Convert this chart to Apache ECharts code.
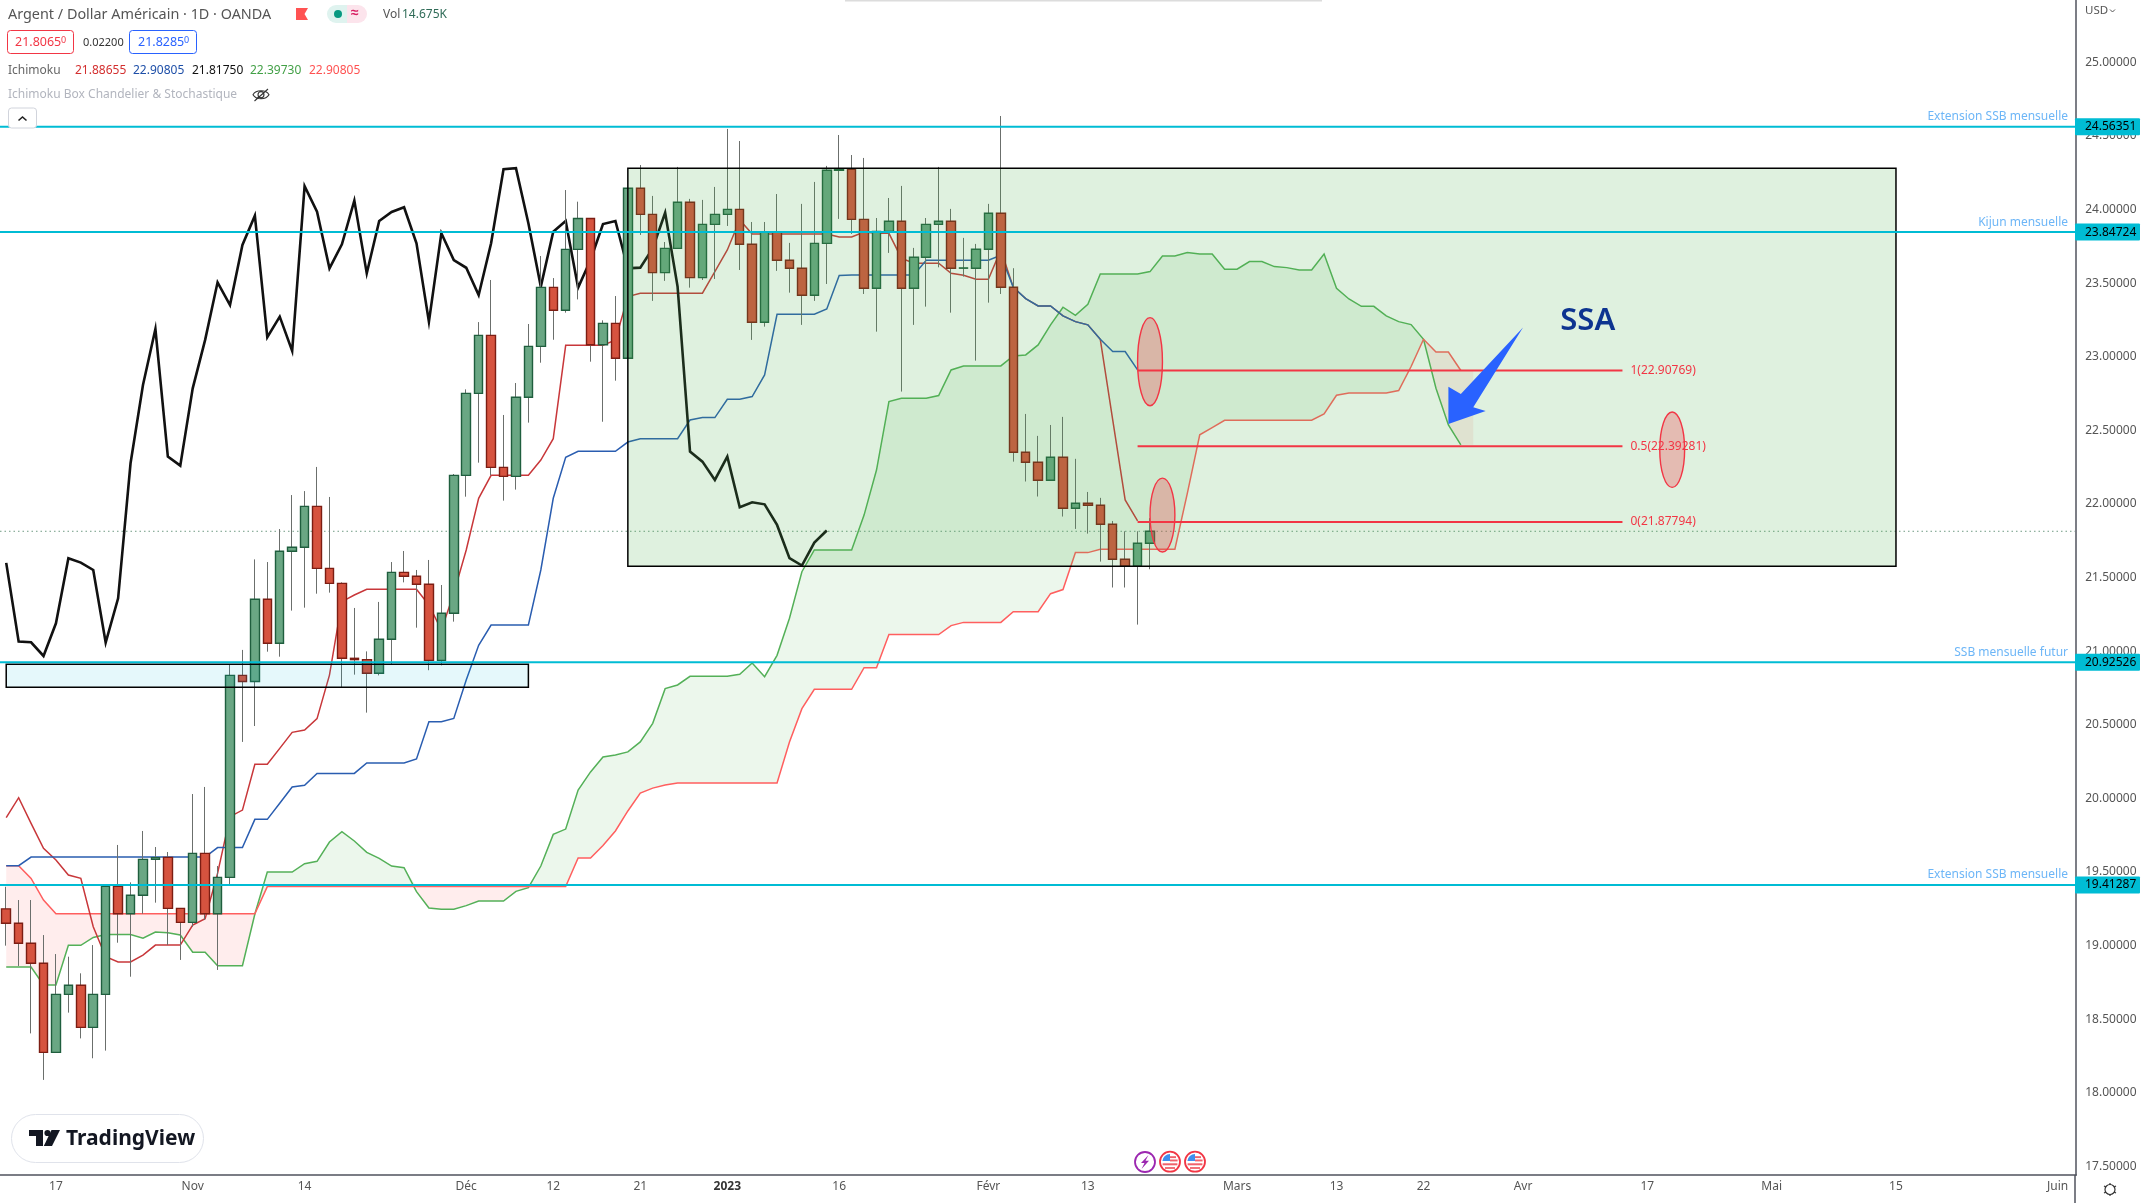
<!DOCTYPE html>
<html><head><meta charset="utf-8"><style>html,body{margin:0;padding:0;background:#fff}#c{width:2144px;height:1203px}</style>
<script src="https://cdn.jsdelivr.net/npm/echarts@6/dist/echarts.min.js"></script></head><body><div id="c"></div>
<script>
const opens=[19.25,19.152,19.016,18.880,18.275,18.669,18.731,18.445,18.669,19.403,19.217,19.342,19.586,19.600,19.253,19.158,19.627,19.217,19.464,20.836,20.794,21.353,21.054,21.679,21.706,21.984,21.563,21.461,20.952,20.943,20.850,21.081,21.536,21.509,21.455,20.938,21.258,22.195,22.752,23.146,22.249,22.188,22.725,23.071,23.472,23.316,23.730,23.940,23.082,23.227,22.990,24.145,23.968,23.572,23.737,24.050,23.538,23.900,23.968,24.002,23.765,23.235,23.846,23.656,23.602,23.418,23.771,24.267,24.274,23.934,23.466,23.851,23.921,23.466,23.676,23.900,23.921,23.602,23.602,23.731,23.975,23.473,22.352,22.284,22.162,22.318,21.971,22.005,21.992,21.863,21.625,21.578,21.734];
const closes=[19.152,19.016,18.880,18.275,18.669,18.731,18.445,18.669,19.403,19.217,19.342,19.586,19.598,19.253,19.158,19.627,19.217,19.464,20.836,20.794,21.353,21.054,21.679,21.706,21.984,21.563,21.461,20.952,20.943,20.850,21.081,21.536,21.509,21.455,20.938,21.258,22.195,22.752,23.146,22.249,22.188,22.725,23.071,23.472,23.316,23.730,23.940,23.082,23.227,22.990,24.145,23.968,23.572,23.737,24.050,23.538,23.900,23.968,24.002,23.765,23.235,23.846,23.656,23.602,23.418,23.771,24.267,24.276,23.934,23.466,23.851,23.921,23.466,23.676,23.900,23.921,23.602,23.604,23.731,23.975,23.473,22.352,22.284,22.162,22.318,21.971,22.005,21.992,21.863,21.625,21.578,21.734,21.815];
const lows=[19.0,18.862,18.404,18.088,18.275,18.545,18.370,18.235,18.287,19.020,18.789,19.217,19.292,19.004,18.903,19.129,19.174,18.835,19.419,20.384,20.492,20.997,20.963,21.276,21.296,21.391,21.398,20.755,20.841,20.583,20.836,20.913,21.468,21.160,20.871,20.904,21.201,22.050,22.281,22.195,22.023,22.098,22.553,22.960,23.116,23.300,23.390,22.967,22.559,22.838,22.990,23.828,23.380,23.516,23.737,23.470,23.522,23.529,23.889,23.590,23.115,23.205,23.584,23.436,23.217,23.380,23.495,23.937,23.835,23.427,23.171,23.706,22.764,23.217,23.341,23.608,23.300,23.545,22.974,23.368,23.427,22.288,22.153,22.051,22.162,21.915,21.831,21.799,21.609,21.433,21.433,21.181,21.557];
const highs=[19.4,19.310,19.310,19.072,18.943,18.925,18.812,19.004,19.403,19.684,19.430,19.779,19.670,19.636,19.253,20.030,20.078,19.541,20.911,21.009,21.624,21.606,21.830,22.061,22.088,22.252,22.048,21.468,21.294,20.999,21.335,21.606,21.681,21.552,21.620,21.450,22.204,22.779,23.236,23.522,22.605,22.822,23.223,23.685,23.535,24.133,24.054,23.940,23.248,23.413,24.145,24.303,24.093,23.780,24.290,24.073,24.066,24.154,24.548,24.466,23.916,23.916,24.106,23.774,24.039,24.188,24.297,24.507,24.371,24.351,23.943,24.079,24.161,23.740,23.943,24.290,24.005,23.808,23.767,24.039,24.636,23.602,22.612,22.463,22.537,22.592,22.307,22.082,22.042,21.885,21.815,21.815,21.904];
const tenkan=[19.87,20.005,19.831,19.661,19.582,19.480,19.457,19.129,18.925,18.889,18.889,18.936,19.004,19.004,19.004,19.140,19.183,19.491,19.876,19.921,20.232,20.232,20.340,20.449,20.465,20.542,20.838,21.337,21.382,21.421,21.421,21.421,21.421,21.421,21.314,21.144,21.393,21.688,22.039,22.195,22.195,22.195,22.195,22.299,22.444,23.078,23.078,23.078,23.078,23.115,23.409,23.432,23.432,23.432,23.432,23.432,23.432,23.579,23.726,23.930,23.835,23.835,23.835,23.835,23.835,23.835,23.835,23.814,23.814,23.848,23.839,23.839,23.670,23.636,23.636,23.636,23.568,23.554,23.527,23.527,23.726,23.473,23.396,23.346,23.346,23.278,23.239,23.217,23.119,22.571,22.028,21.885];
const kijun=[19.543,19.543,19.602,19.602,19.602,19.602,19.602,19.602,19.602,19.602,19.602,19.602,19.602,19.602,19.602,19.602,19.602,19.666,19.666,19.666,19.858,19.858,19.967,20.078,20.089,20.170,20.170,20.170,20.170,20.241,20.241,20.241,20.241,20.268,20.521,20.521,20.544,20.804,21.040,21.178,21.178,21.178,21.178,21.552,22.039,22.317,22.358,22.358,22.358,22.358,22.421,22.444,22.444,22.444,22.444,22.571,22.587,22.587,22.712,22.712,22.730,22.877,23.289,23.289,23.289,23.289,23.325,23.552,23.556,23.556,23.556,23.556,23.556,23.556,23.656,23.656,23.656,23.656,23.656,23.656,23.690,23.473,23.396,23.346,23.346,23.278,23.239,23.217,23.119,23.036,23.036,22.911];
const chikou=[21.6,21.066,21.061,20.968,21.190,21.632,21.602,21.552,21.059,21.360,22.277,22.809,23.189,22.322,22.261,22.786,23.115,23.506,23.352,23.760,23.959,23.133,23.273,23.040,24.160,23.986,23.601,23.764,24.061,23.567,23.923,23.984,24.016,23.771,23.239,23.839,23.657,23.605,23.420,23.771,24.274,24.281,23.907,23.477,23.850,23.923,23.470,23.658,23.902,23.923,23.601,23.606,23.737,23.979,23.477,22.356,22.288,22.164,22.322,21.978,22.012,21.998,21.858,21.632,21.582,21.738,21.820];
const senkouA=[18.855,18.855,18.855,18.733,18.733,19.002,19.002,19.056,19.075,19.075,19.075,19.050,19.093,19.088,19.072,18.955,18.955,18.864,18.864,18.864,19.215,19.500,19.500,19.500,19.557,19.573,19.704,19.774,19.711,19.634,19.593,19.541,19.530,19.367,19.256,19.247,19.247,19.272,19.303,19.303,19.303,19.369,19.394,19.541,19.756,19.792,20.057,20.180,20.282,20.295,20.316,20.384,20.510,20.746,20.771,20.830,20.830,20.830,20.830,20.843,20.920,20.827,20.972,21.224,21.540,21.688,21.688,21.688,21.688,21.925,22.231,22.696,22.719,22.719,22.719,22.737,22.911,22.938,22.938,22.938,22.938,23.006,23.013,23.081,23.217,23.337,23.282,23.357,23.563,23.563,23.563,23.563,23.579,23.685,23.685,23.708,23.699,23.699,23.595,23.595,23.647,23.647,23.613,23.606,23.590,23.590,23.699,23.466,23.393,23.343,23.343,23.278,23.239,23.219,23.119,22.787,22.537,22.402,22.402];
const senkouB=[19.543,19.543,19.457,19.310,19.217,19.217,19.217,19.217,19.217,19.217,19.217,19.217,19.217,19.217,19.217,19.217,19.217,19.217,19.217,19.217,19.217,19.401,19.401,19.401,19.401,19.401,19.401,19.401,19.401,19.401,19.401,19.401,19.401,19.401,19.401,19.401,19.401,19.401,19.401,19.401,19.401,19.401,19.401,19.401,19.401,19.401,19.596,19.596,19.680,19.779,19.915,20.037,20.070,20.091,20.105,20.105,20.105,20.105,20.105,20.105,20.105,20.105,20.105,20.384,20.610,20.741,20.741,20.741,20.741,20.888,20.888,21.113,21.113,21.113,21.113,21.113,21.174,21.196,21.196,21.196,21.196,21.268,21.268,21.268,21.391,21.419,21.670,21.670,21.693,21.693,21.693,21.693,21.693,21.693,21.693,22.073,22.470,22.519,22.569,22.569,22.569,22.569,22.569,22.569,22.569,22.569,22.612,22.739,22.755,22.755,22.755,22.755,22.771,22.934,23.119,23.033,23.033,22.907,22.907];
const yTicks=[25,24.5,24,23.5,23,22.5,22,21.5,21,20.5,20,19.5,19,18.5,18,17.5];
const tickIndex=[4,15,24,37,44,51,58,67,79,87,99,107,114,122,132,142,152,165];
const tickLabels=['17','Nov','14','Déc','12','21','2023','16','Févr','13','Mars','13','22','Avr','17','Mai','15','Juin'];
const levels=[24.56351,23.84724,20.92526,19.41287];
const levelNames=['Extension SSB mensuelle','Kijun mensuelle','SSB mensuelle futur','Extension SSB mensuelle'];
const lastPrice=[21.815];
const fibRatios=['1','0.5','0'];
const fibValues=[22.90769,22.39281,21.87794];
const fibSpan=[91,130];
const mainBox=[50,152,24.281,21.577];
const supportBox=[0,42,20.911,20.755];
const ellipses=[[92,22.967,3.6,0.299],[92.5,21.925,2.56,0.251],[133.5,22.369,4.54,0.256]];
const arrowX=[115.95,116.32,116.8,122.06,118.08,118.74];
const arrowY=[22.544,22.797,22.747,23.200,22.657,22.632];
const ssaLabel=[124.5,23.243];

const FONT='"Noto Sans", sans-serif';
const categories=new Array(167).fill('');
tickIndex.forEach((ix,k)=>{categories[ix]=tickLabels[k]});
const bars=opens.map((o,i)=>[o,closes[i],lows[i],highs[i]]);
const bodies=opens.map((o,i)=>[o,closes[i],Math.min(o,closes[i]),Math.max(o,closes[i])]);

const runs=[];
(function(){
  let cur=null;
  for(let i=0;i<senkouA.length;i++){
    const a=senkouA[i],b=senkouB[i],sign=a>=b?1:-1;
    if(cur&&cur.sign!==sign){
      const pa=senkouA[i-1],pb=senkouB[i-1],d0=pa-pb,d1=a-b,t=d0/(d0-d1),cy=pa+t*(a-pa),cx=i-1+t;
      cur.up.push([cx,cy]);runs.push(cur);
      cur={sign,up:[[cx,cy]],dn:[]};
    }
    if(!cur)cur={sign,up:[],dn:[]};
    cur.up.push([i,a]);cur.dn.push([i,b]);
  }
  runs.push(cur);
})();

function layer(z,count,draw){
  const data=[];for(let i=0;i<count;i++)data.push([i,20]);
  return {type:'custom',coordinateSystem:'cartesian2d',z,clip:false,silent:true,animation:false,
    encode:{x:0,y:1},data,renderItem:(p,api)=>draw(p.dataIndex,api)};
}
function lineSeries(data,color,width,z){
  return {type:'line',data,z,symbol:'none',silent:true,animation:false,smooth:false,
    lineStyle:{color,width,join:'miter'},connectNulls:false};
}
function T(text,x,y,fill,size,extra){
  return {type:'text',x,y,silent:true,style:Object.assign({text,fill,fontSize:size,fontFamily:FONT,verticalAlign:'middle'},extra||{})};
}
function R(x,y,w,h,fill,stroke,r,lw){
  return {type:'rect',silent:true,shape:{x,y,width:w,height:h,r:r||0},style:{fill:fill||'none',stroke:stroke||'none',lineWidth:lw||1}};
}
function P(d,fill,stroke,lw){return {type:'path',silent:true,shape:{pathData:d},style:{fill:fill||'none',stroke:stroke||'none',lineWidth:lw||1}}}
function C(cx,cy,r,fill,stroke,lw){return {type:'circle',silent:true,shape:{cx,cy,r},style:{fill:fill||'none',stroke:stroke||'none',lineWidth:lw||1}}}
function flag(cx,cy){
  return [C(cx,cy,10,'#fff','#f23645',1.8),
    P(`M${cx-7.6},${cy-0.6} A7.6,7.6 0 0 1 ${cx},${cy-7.6} L${cx},${cy-0.6} Z`,'#3f8fee'),
    R(cx,cy-5.5,6,1.9,'#f0616b'),R(cx,cy-2.2,7.6,1.9,'#f0616b'),R(cx-7.4,cy+1.6,14.8,2,'#f0616b'),R(cx-5,cy+5.4,10,1.8,'#f0616b')];
}
function chrome(){
  const e=[];
  e.push(R(845,0,477,1.6,'#dcdcdc'));
  e.push(T('Argent / Dollar Américain · 1D · OANDA',8,15,'#555',14.4));
  e.push(P('M296,8 L308,8 L304.5,14 L308,20 L296,20 Z','#ff5252'));
  e.push(R(327,5,20,18,'#dff3ef',null,[9,0,0,9]));
  e.push(R(347,5,20,18,'#fce4ec',null,[0,9,9,0]));
  e.push(C(338,14,4,'#089981'));
  e.push(T('≈',351,13.5,'#d81b60',14,{fontWeight:'bold'}));
  e.push(T('Vol',383,15,'#555',12));
  e.push(T('14.675K',402,15,'#2f6b57',12));
  e.push(R(7.5,30.5,66,23,'#fff','#f23645',3,1));
  e.push(T('21.8065',15,42.5,'#f23645',12.5));
  e.push(T('0',61,40,'#f23645',9));
  e.push(T('0.02200',83,42.5,'#333',11));
  e.push(R(129.5,30.5,67,23,'#fff','#2962ff',3,1));
  e.push(T('21.8285',138,42.5,'#2962ff',12.5));
  e.push(T('0',184,40,'#2962ff',9));
  e.push(T('Ichimoku',8,70.5,'#666',12));
  e.push(T('21.88655',75,70.5,'#d32f2f',12));
  e.push(T('22.90805',133,70.5,'#1e4fa8',12));
  e.push(T('21.81750',192,70.5,'#111',12));
  e.push(T('22.39730',250,70.5,'#43a047',12));
  e.push(T('22.90805',309,70.5,'#ff5252',12));
  e.push(T('Ichimoku Box Chandelier & Stochastique',8,94.5,'#b2b5be',12));
  e.push(P('M253,94.7 C256,89.5 266,89.5 269,94.7 C266,100 256,100 253,94.7 Z M258,94.7 A3,3 0 1 0 264,94.7 A3,3 0 1 0 258,94.7 Z M254.5,101 L268,89',null,'#333',1.1));
  e.push(R(8.5,108,28,20,'#fff','#d1d4dc',3,1));
  e.push(P('M18.5,120.5 L22.5,117 L26.5,120.5',null,'#222',1.6));
  e.push(T('USD',2085,10.5,'#555',11.5));
  e.push(P('M2110,9.5 L2112.5,12 L2115,9.5',null,'#555',1));
  e.push(R(11.5,1114.5,192,48,'#fff','#e0e3eb',24,1));
  e.push(P('M29,1130 L43,1130 L43,1146 L36,1146 L36,1136 L29,1136 Z','#131722'));
  e.push(C(47.5,1133,3.1,'#131722'));
  e.push(P('M51.5,1130 L60,1130 L52,1146 L43.8,1146 Z','#131722'));
  e.push(T('TradingView',66,1139,'#131722',21,{fontWeight:'bold'}));
  e.push(C(1145,1162,10,'#fff','#9c27b0',1.8));
  e.push(P('M1148.5,1155 L1141,1163 L1144.5,1163 L1141.5,1169 L1149,1160.8 L1145.5,1160.8 Z','#9c27b0'));
  flag(1170,1161.7).forEach(x=>e.push(x));
  flag(1195,1161.7).forEach(x=>e.push(x));
  e.push(P('M2075,1175 L2075,1203',null,'#50535e',1.5));
  e.push(C(2110,1189.5,5,'#fff','#333',1.2));
  e.push(P('M2110,1183 L2110,1185 M2110,1194 L2110,1196 M2104,1186 L2106,1187 M2114,1192 L2116,1193 M2104,1193 L2106,1192 M2114,1187 L2116,1186',null,'#333',1.2));
  return e;
}

const option={
  backgroundColor:'#ffffff',animation:false,
  grid:{left:-11.25,top:0,width:2087.5,height:1175,containLabel:false},
  xAxis:{type:'category',data:categories,boundaryGap:true,
    axisLine:{show:true,lineStyle:{color:'#50535e',width:1.5}},axisTick:{show:false},splitLine:{show:false},
    axisLabel:{interval:(i,v)=>v!=='',color:'#555',fontSize:12,fontFamily:FONT,margin:6,hideOverlap:false,
      formatter:v=>v==='2023'?'{b|2023}':v,rich:{b:{fontWeight:'bold',color:'#333',fontSize:12,fontFamily:FONT}}}},
  yAxis:{type:'value',position:'right',offset:-1,min:17.442,max:25.424,
    axisLine:{show:true,onZero:false,lineStyle:{color:'#50535e',width:1.5}},axisTick:{show:false},splitLine:{show:false},
    axisLabel:{customValues:yTicks,color:'#555',fontSize:12,fontFamily:FONT,margin:10,formatter:v=>v.toFixed(5)}},
  series:[
    layer(1,runs.length,(i,api)=>{
      const r=runs[i];
      const pts=r.up.concat(r.dn.slice().reverse()).map(p=>api.coord(p));
      return {type:'polygon',shape:{points:pts},style:{fill:r.sign>0?'rgba(76,175,80,0.105)':'rgba(255,82,82,0.105)'}};
    }),
    lineSeries(senkouA.slice(0,-1),'#54b058',1.5,2),
    lineSeries(senkouB.slice(0,-1),'#ff5f5f',1.5,2),
    lineSeries(tenkan,'#c8373a',1.5,2),
    lineSeries(kijun,'#2a5db0',1.5,2),
    lineSeries(chikou,'#111111',2.6,2),
    layer(2,1,(i,api)=>{
      const y=api.coord([0,lastPrice[0]])[1];
      return {type:'line',shape:{x1:0,y1:y,x2:2075,y2:y},style:{stroke:'#6f9a82',lineWidth:1,lineDash:[1.5,3]}};
    }),
    {type:'candlestick',data:bars,z:3,barWidth:1,silent:true,animation:false,
      itemStyle:{color:'#6b6f6c',color0:'#6b6f6c',borderColor:'#6b6f6c',borderColor0:'#6b6f6c',borderWidth:1}},
    {type:'candlestick',data:bodies,z:4,barWidth:9,silent:true,animation:false,
      itemStyle:{color:'#6aa784',color0:'#d6533f',borderColor:'#1f5e3e',borderColor0:'#7c1d13',borderWidth:1.4}},
    layer(5,2,(i,api)=>{
      const b=i?supportBox:mainBox;
      const p0=api.coord([b[0],b[2]]),p1=api.coord([b[1],b[3]]);
      return {type:'rect',shape:{x:p0[0],y:p0[1],width:p1[0]-p0[0],height:p1[1]-p0[1]},
        style:{fill:i?'rgba(0,188,212,0.1)':'rgba(76,175,80,0.18)',stroke:'#000',lineWidth:1.5}};
    }),
    layer(6,levels.length,(i,api)=>{
      const y=api.coord([0,levels[i]])[1];
      const textY=y-10;
      return {type:'group',children:[
        {type:'line',shape:{x1:0,y1:y,x2:2075,y2:y},style:{stroke:'#00bcd4',lineWidth:2}},
        {type:'text',style:{text:levelNames[i],x:2068,y:textY,align:'right',verticalAlign:'middle',fill:'#6db6f7',fontSize:12,fontFamily:FONT}},
        {type:'rect',shape:{x:2075,y:y-8.5,width:65,height:17,r:1},style:{fill:'#00bcd4'}},
        {type:'text',style:{text:levels[i].toFixed(5),x:2085,y:y,align:'left',verticalAlign:'middle',fill:'#000',fontSize:12,fontFamily:FONT}}
      ]};
    }),
    layer(7,ellipses.length,(i,api)=>{
      const e=ellipses[i],c=api.coord([e[0],e[1]]),r=api.size([e[2],e[3]]);
      return {type:'ellipse',shape:{cx:c[0],cy:c[1],rx:r[0],ry:r[1]},style:{fill:'rgba(242,54,69,0.29)',stroke:'#f23645',lineWidth:1.4}};
    }),
    layer(8,fibValues.length,(i,api)=>{
      const a=api.coord([fibSpan[0],fibValues[i]]),b=api.coord([fibSpan[1],fibValues[i]]);
      return {type:'group',children:[
        {type:'line',shape:{x1:a[0],y1:a[1],x2:b[0],y2:b[1]},style:{stroke:'#f23645',lineWidth:2}},
        {type:'text',style:{text:fibRatios[i]+'('+fibValues[i].toFixed(5)+')',x:b[0]+8,y:b[1],align:'left',verticalAlign:'middle',fill:'#f23645',fontSize:12,fontFamily:FONT}}
      ]};
    }),
    layer(9,1,(i,api)=>{
      const pts=arrowX.map((x,k)=>api.coord([x,arrowY[k]]));
      const t=api.coord(ssaLabel);
      return {type:'group',children:[
        {type:'polygon',shape:{points:pts},style:{fill:'#2962ff'}},
        {type:'text',style:{text:'SSA',x:t[0],y:t[1],align:'left',verticalAlign:'middle',fill:'#0d3490',fontSize:31,fontWeight:600,fontFamily:FONT}}
      ]};
    }),
    layer(50,1,()=>({type:'group',children:chrome()}))
  ]
};
const chart=echarts.init(document.getElementById('c'),null,{renderer:'canvas',width:2144,height:1203});
chart.setOption(option);
</script></body></html>
